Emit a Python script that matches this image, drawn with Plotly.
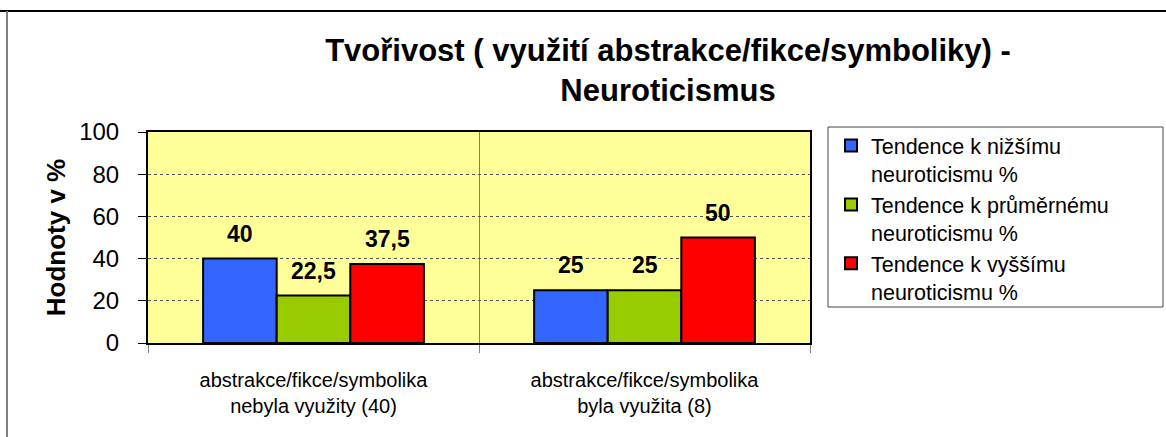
import plotly.graph_objects as go

categories = ["abstrakce/fikce/symbolika<br>nebyla využity (40)",
              "abstrakce/fikce/symbolika<br>byla využita (8)"]
series_names = ["Tendence k nižšímu<br>neuroticismu %",
                "Tendence k průměrnému<br>neuroticismu %",
                "Tendence k vyššímu<br>neuroticismu %"]
low_vals = [40, 25]
avg_vals = [22.5, 25]
high_vals = [37.5, 50]
colors = ["#3366FF", "#99CC00", "#FF0000"]
y_ticks = [0, 20, 40, 60, 80, 100]

FONT = "Arial, Liberation Sans, sans-serif"
W, H = 1166, 437
L, R, T, B = 148, 356, 132, 94
PW, PH = W - L - R, H - T - B

fig = go.Figure()
all_vals = [low_vals, avg_vals, high_vals]
for name, vals, col in zip(series_names, all_vals, colors):
    fig.add_trace(go.Bar(x=categories, y=vals, name=name,
                         marker=dict(color=col, line=dict(color="black", width=2))))

bargap = 0.333
bw = (1 - bargap) / 3
annotations = []
for si, vals in enumerate(all_vals):
    for ci, v in enumerate(vals):
        annotations.append(dict(x=ci + (si - 1) * bw, y=v, xref="x", yref="y",
                                text="<b>" + (f"{v:g}".replace(".", ",")) + "</b>",
                                showarrow=False, yshift=25,
                                font=dict(family=FONT, size=23, color="black")))

fig.update_layout(
    width=W, height=H,
    margin=dict(l=L, r=R, t=T, b=B),
    paper_bgcolor="white", plot_bgcolor="#FFFF99",
    barmode="group", bargap=bargap, bargroupgap=0,
    font=dict(family=FONT, size=20, color="black"),
    title=dict(text="<b>Tvořivost ( využití abstrakce/fikce/symboliky) -<br>Neuroticismus</b>",
               x=668 / W, xanchor="center", y=1 - 61 / H, yanchor="top",
               font=dict(family=FONT, size=31, color="black")),
    legend=dict(x=(831 - L) / PW, y=(H - B - 125) / PH, xanchor="left", yanchor="top",
                borderwidth=0, bgcolor="rgba(0,0,0,0)",
                font=dict(family=FONT, size=21.5), tracegroupgap=0,
                itemwidth=30, valign="top"),
    annotations=annotations,
    showlegend=True,
)
fig.update_xaxes(showline=True, linecolor="black", linewidth=2, mirror=True,
                 tickson="boundaries", ticks="outside", ticklen=8, tickcolor="#808080",
                 showgrid=True, gridcolor="#808080", gridwidth=1, ticklabelstandoff=18,
                 tickfont=dict(family=FONT, size=20), range=[-0.5, 1.5])
fig.update_yaxes(range=[0, 100], tickvals=y_ticks, showline=True, linecolor="black",
                 linewidth=2, mirror=True, ticks="outside", ticklen=8, tickcolor="black",
                 showgrid=True, gridcolor="#555", griddash="dot", gridwidth=1,
                 zeroline=False, tickfont=dict(family=FONT, size=24), ticklabelstandoff=14,
                 title=dict(text="<b>Hodnoty v %</b>", font=dict(family=FONT, size=26), standoff=6))

# outer chart frame (top and left edges visible)
fig.add_shape(type="line", xref="paper", yref="paper", x0=-L / PW, x1=(W - L) / PW,
              y0=(H - B - 11) / PH, y1=(H - B - 11) / PH, line=dict(color="black", width=2))
fig.add_shape(type="line", xref="paper", yref="paper", x0=(7 - L) / PW, x1=(7 - L) / PW,
              y0=(H - B - 11) / PH, y1=-B / PH, line=dict(color="#808080", width=2))
# legend box
fig.add_shape(type="rect", xref="paper", yref="paper", x0=(828 - L) / PW, x1=(1163 - L) / PW,
              y0=(H - B - 307) / PH, y1=(H - B - 127) / PH, line=dict(color="#444", width=1),
              fillcolor="white", layer="below")

fig.write_html("out.html", config={"displayModeBar": False},
               post_script="document.body.style.margin='0';")
